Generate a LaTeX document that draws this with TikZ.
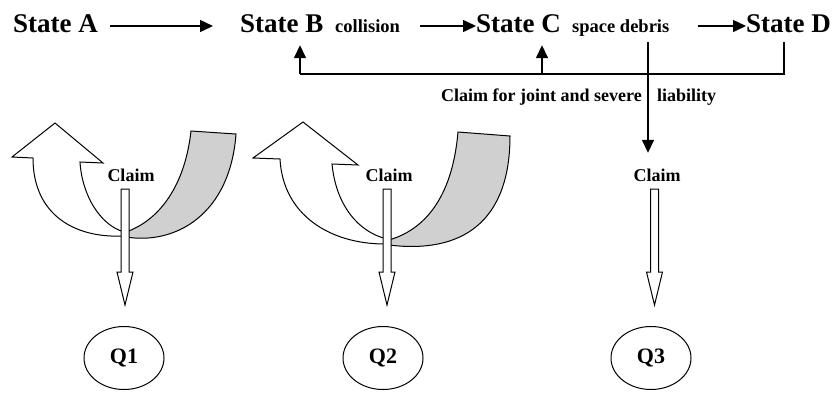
\documentclass[tikz,border=0pt]{standalone}
\usepackage{fontspec}
\setmainfont{Liberation Serif}
\usepackage{tikz}
\usetikzlibrary{
  shapes.geometric,
  arrows.meta,
  positioning,
  calc
}
\definecolor{linecolor}{RGB}{0, 0, 0}
\definecolor{ribboncolor}{RGB}{208, 208, 208}
\tikzset{
statetext/.style={
  font=\bfseries\fontsize{27}{31}\selectfont,
  inner xsep=0pt,
  inner ysep=10pt,
  text height=12pt,
  text depth=0pt,
  anchor=base west
},
smalltext/.style={
  statetext,
  font=\bfseries\fontsize{18.5}{22}\selectfont
},
claimtext/.style={
  font=\bfseries\fontsize{18}{21}\selectfont,
  inner sep=4pt,
  text height=12pt,
  text depth=0pt,
  anchor=base
},
qnode/.style={
  draw=linecolor,
  ellipse,
  line width=1pt,
  minimum width=80pt,
  minimum height=63pt,
  font=\bfseries\fontsize{22}{25}\selectfont
},
arrow/.style={
  -{Triangle[length=13pt,width=12pt]},
  line width=1.5pt,
  draw=linecolor
},
busline/.style={
  line width=1.5pt,
  draw=linecolor
},
hollowarrow/.style={
  draw=linecolor,
  fill=white,
  line width=1pt
},
whiteribbon/.style={
  draw=linecolor,
  fill=white,
  line width=1pt
},
grayribbon/.style={
  draw=linecolor,
  fill=ribboncolor,
  line width=1pt
}
}

\begin{document}
\begin{tikzpicture}[x=1pt, y=-1pt]
  \useasboundingbox (0,0) rectangle (838,392);

  % ribbons
  \draw[whiteribbon] (122,236) .. controls (75,238) and (33,215) .. (33,158)
    -- (12,157) -- (55,123) -- (103,163) -- (80,162)
    .. controls (82,195) and (100,225) .. (124,232) -- cycle;
  \draw[grayribbon] (126,232) .. controls (160,220) and (185,185) .. (191,131)
    -- (236,134) .. controls (230,215) and (175,245) .. (126,237) -- cycle;
  \draw[whiteribbon] (385,244) .. controls (330,244) and (283,215) .. (280,159)
    -- (253,158) -- (303,122) -- (358,165) -- (332,164)
    .. controls (336,205) and (358,232) .. (387,239) -- cycle;
  \draw[grayribbon] (389,240) .. controls (430,228) and (453,190) .. (458,132)
    -- (510,136) .. controls (510,222) and (462,254) .. (389,245) -- cycle;

  \node[statetext] (stA) at (13,32) {State A};
  \node[statetext] (stB) at (240,32) {State B};
  \node[smalltext] (collision) at (335,32) {collision};
  \node[statetext] (stC) at (476,32) {State C};
  \node[smalltext] (debris) at (572,32) {space debris};
  \node[statetext] (stD) at (746,32) {State D};

  \draw[arrow, shorten <=12pt, shorten >=27pt] (stA) -- (stB);
  \draw[arrow, shorten <=20pt] (collision) -- (stC);
  \draw[arrow, shorten <=28pt] (debris) -- (stD);

  \coordinate (busB) at (300,74);
  \coordinate (busC) at (542,74);
  \coordinate (busD) at (784,74);
  \coordinate (cross) at (648,74);
  \draw[busline] (busD |- stD.south) -- (busD) -- (busB);
  \draw[arrow, shorten >=3pt] (busB) -- (busB |- stB.south);
  \draw[arrow, shorten >=3pt] (busC) -- (busC |- stC.south);

  \node[claimtext, anchor=base east, inner xsep=0pt] (joint) at (642,101) {Claim for joint and severe};
  \node[claimtext, anchor=base west, inner xsep=0pt] (liab) at (657,101) {liability};

  \node[claimtext] (c1) at (131,181) {Claim};
  \node[claimtext] (c2) at (389,181) {Claim};
  \node[claimtext] (c3) at (657,181) {Claim};

  \draw[arrow, shorten >=12pt] (debris.south -| cross) -- (cross |- c3.north);

  \node[qnode] (q1) at (124,358) {Q1};
  \node[qnode] (q2) at (383,358) {Q2};
  \node[qnode] (q3) at (651,358) {Q3};

  \draw[hollowarrow] ([xshift=1pt]q1.north) ++(0,-21) -- ++(-8,-33) -- ++(4,0)
    -- ++(0,-83) -- ++(8,0) -- ++(0,83) -- ++(4,0) -- cycle;
  \draw[hollowarrow] ([xshift=4pt]q2.north) ++(0,-21) -- ++(-8,-33) -- ++(4,0)
    -- ++(0,-83) -- ++(8,0) -- ++(0,83) -- ++(4,0) -- cycle;
  \draw[hollowarrow] ([xshift=3.5pt]q3.north) ++(0,-21) -- ++(-8,-33) -- ++(4,0)
    -- ++(0,-83) -- ++(8,0) -- ++(0,83) -- ++(4,0) -- cycle;
\end{tikzpicture}
\end{document}
